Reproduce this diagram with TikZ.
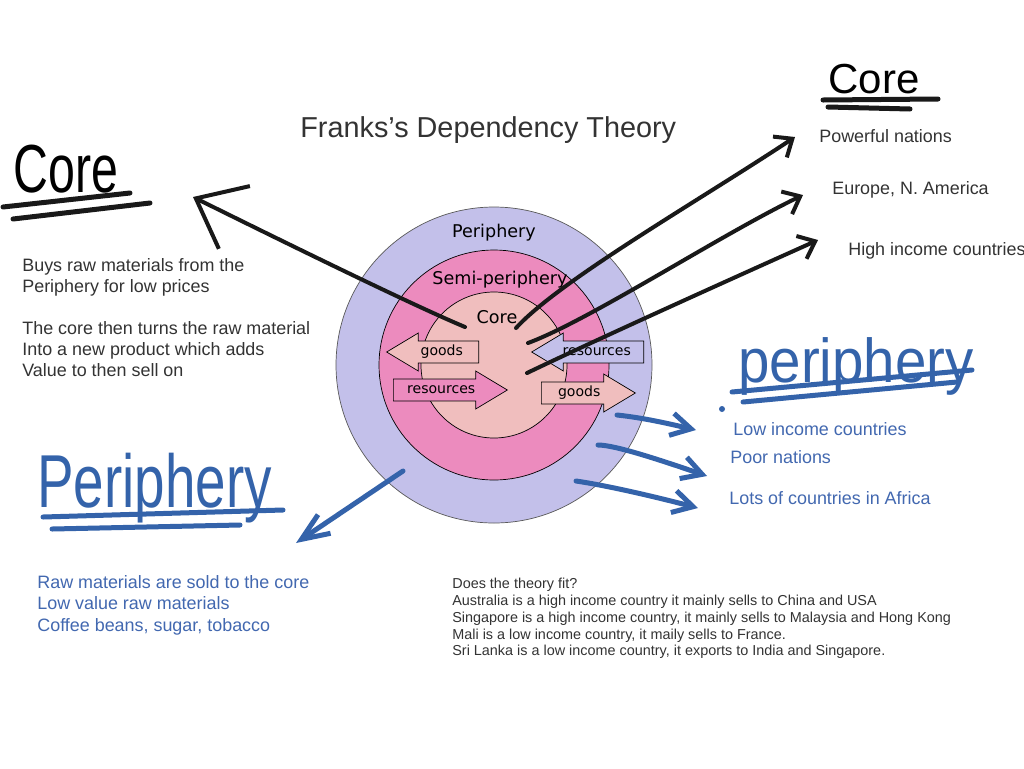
\documentclass[tikz,border=0pt]{standalone}
\usepackage{fontspec}
\setmainfont{Liberation Sans}
\newfontfamily\circfont{DejaVu Sans}
\usetikzlibrary{shapes.arrows, arrows.meta}
\definecolor{lavender}{RGB}{195,192,234}
\definecolor{semipink}{RGB}{236,139,190}
\definecolor{corepink}{RGB}{240,190,190}
\definecolor{penblue}{RGB}{52,99,170}
\definecolor{textblue}{RGB}{66,104,176}
\definecolor{textgray}{RGB}{51,51,51}
\tikzstyle{pen} = [line width=0.08cm, line cap=round, black!90]
\tikzstyle{bluepen} = [line width=0.1cm, line cap=round, penblue]
\tikzstyle{blockarrow} = [single arrow, draw=black, line width=0.4pt, font=\circfont\fontsize{8pt}{9pt}\selectfont, text height=6pt, text depth=1.7pt, inner ysep=2.2pt, single arrow head extend=0.16cm, single arrow tip angle=62]
\tikzstyle{circlabel} = [inner sep=0, font=\circfont\fontsize{10pt}{12pt}\selectfont]
\tikzstyle{note} = [anchor=base west, inner sep=0, text=textgray, font=\fontsize{10.2pt}{12pt}\selectfont]
\tikzstyle{notes} = [anchor=north west, inner sep=0, align=left, text=textgray, font=\fontsize{10.2pt}{12pt}\selectfont]
\tikzstyle{hand} = [anchor=base west, inner sep=0]

\begin{document}
\begin{tikzpicture}[x=0.02cm, y=-0.02cm]
\useasboundingbox (0,0) rectangle (1024,768);
\fill[white] (0,0) rectangle (1024,768);

\draw[fill=lavender, draw=black!65] (494,365) circle (158);
\draw[fill=semipink] (494,365) circle (115);
\draw[fill=corepink] (494,365) circle (73);
\node[circlabel] (perilabel) at (494,233) {Periphery};
\node[circlabel] (semilabel) at (500,280) {Semi-periphery};
\node[circlabel] (corelabel) at (497,317) {Core};

\node[blockarrow, fill=corepink, minimum height=1.84cm, shape border rotate=180, anchor=tail] (goodsout) at (479,352) {goods};
\node[blockarrow, fill=semipink, minimum height=2.28cm, anchor=tail] (resin) at (393,390) {resources};
\node[blockarrow, fill=lavender, minimum height=2.24cm, shape border rotate=180, anchor=tail] (resout) at (644,352) {resources};
\node[blockarrow, fill=corepink, minimum height=1.88cm, anchor=tail] (goodsin) at (541,393) {goods};

\node[anchor=base west, inner sep=0, text=textgray, font=\fontsize{16.4pt}{19pt}\selectfont] (title) at (300,137) {Franks's Dependency Theory};

\node[hand, font=\fontsize{38.7pt}{40pt}\selectfont] (corehandl) at (13,192) {\scalebox{0.71}[1]{Core}};
\draw[pen, line width=0.1cm] (3,207) -- (130,193);
\draw[pen, line width=0.1cm] (13,219) -- (150,203);
\node[notes] (buys) at (22,258) {Buys raw materials from the\\Periphery for low prices};
\node[notes] (turns) at (22,321) {The core then turns the raw material\\Into a new product which adds\\Value to then sell on};

\node[hand, font=\fontsize{23.9pt}{26pt}\selectfont] (corehandr) at (828,93) {Core};
\draw[pen, line width=0.1cm] (823,100) -- (938,99);
\draw[pen, line width=0.1cm] (828,107) -- (910,109);
\node[note] (powerful) at (819,142) {Powerful nations};
\node[note] (europe) at (832,194) {Europe, N. America};
\node[note] (highinc) at (848,255) {High income countries};

\node[hand, text=penblue, font=\fontsize{42.7pt}{44pt}\selectfont] (perihandl) at (37,507) {\scalebox{0.73}[1]{Periphery}};
\draw[bluepen] (43,517) -- (283,510);
\draw[bluepen] (52,529) -- (240,525);
\node[notes, text=textblue, font=\fontsize{10.2pt}{12.2pt}\selectfont] (rawsold) at (37,575) {Raw materials are sold to the core\\Low value raw materials\\Coffee beans, sugar, tobacco};

\node[hand, text=penblue, font=\fontsize{35.3pt}{37pt}\selectfont] (perihandr) at (738,382) {\scalebox{0.91}[1]{periphery}};
\draw[bluepen] (732,392) -- (972,370);
\draw[bluepen] (743,402) -- (957,382);
\fill[penblue] (722,409) circle (3);
\node[note, text=textblue] (lowinc) at (733,435) {Low income countries};
\node[note, text=textblue] (poor) at (730,463) {Poor nations};
\node[note, text=textblue] (africa) at (729,504) {Lots of countries in Africa};

\node[notes, font=\fontsize{8.2pt}{9.55pt}\selectfont] (fit) at (452,578) {Does the theory fit?\\Australia is a high income country it mainly sells to China and USA\\Singapore is a high income country, it mainly sells to Malaysia and Hong Kong\\Mali is a low income country, it maily sells to France.\\Sri Lanka is a low income country, it exports to India and Singapore.};

\coordinate (corebuy) at (465,327);
\coordinate (corebuytip) at (193,197);
\coordinate (corepow) at (516,328);
\coordinate (corepowtip) at (795,137);
\coordinate (coreeur) at (528,343);
\coordinate (coreeurtip) at (803,195);
\coordinate (corehigh) at (527,373);
\coordinate (corehightip) at (818,240);
\draw[pen, -{Straight Barb[length=0.86cm, width=1.4cm]}] (corebuy) .. controls (410,304) and (280,240) .. (corebuytip);
\draw[pen, -{Straight Barb[length=0.3cm, width=0.5cm]}] (corepow) .. controls (560,280) and (700,200) .. (corepowtip);
\draw[pen, -{Straight Barb[length=0.3cm, width=0.5cm]}] (coreeur) .. controls (590,320) and (720,235) .. (coreeurtip);
\draw[pen, -{Straight Barb[length=0.3cm, width=0.5cm]}] (corehigh) .. controls (600,338) and (740,275) .. (corehightip);

\coordinate (perisold) at (403,471);
\coordinate (perisoldtip) at (296,543);
\coordinate (perilow) at (617,415);
\coordinate (perilowtip) at (696,430);
\coordinate (peripoor) at (598,445);
\coordinate (peripoortip) at (707,476);
\coordinate (periafr) at (576,481);
\coordinate (periafrtip) at (698,508);
\draw[bluepen, -{Straight Barb[length=0.55cm, width=0.45cm]}] (perisold) -- (perisoldtip);
\draw[bluepen, -{Straight Barb[length=0.4cm, width=0.45cm]}] (perilow) .. controls (645,418) and (670,424) .. (perilowtip);
\draw[bluepen, -{Straight Barb[length=0.4cm, width=0.45cm]}] (peripoor) .. controls (615,445) and (660,460) .. (peripoortip);
\draw[bluepen, -{Straight Barb[length=0.4cm, width=0.45cm]}] (periafr) .. controls (610,486) and (660,498) .. (periafrtip);
\end{tikzpicture}
\end{document}
